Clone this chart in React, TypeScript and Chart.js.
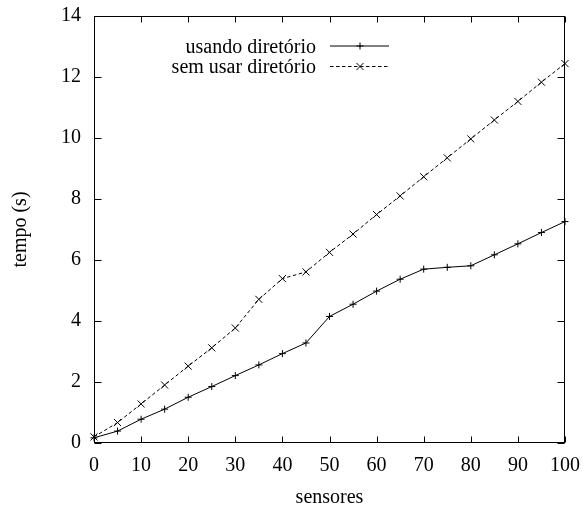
import React, { useEffect, useRef } from "react";
import { Chart, registerables } from "chart.js";

Chart.register(...registerables);

const sensors = [0, 5, 10, 15, 20, 25, 30, 35, 40, 45, 50, 55, 60, 65, 70, 75, 80, 85, 90, 95, 100];
const usandoDiretorio = [0.17, 0.39, 0.78, 1.11, 1.5, 1.85, 2.21, 2.56, 2.93, 3.28, 4.15, 4.55, 4.98, 5.37, 5.7, 5.76, 5.81, 6.17, 6.53, 6.9, 7.26];
const semUsarDiretorio = [0.2, 0.67, 1.28, 1.9, 2.52, 3.12, 3.77, 4.71, 5.39, 5.61, 6.25, 6.85, 7.49, 8.1, 8.73, 9.35, 9.97, 10.59, 11.2, 11.83, 12.44];
const seriesLabels = ["usando diretório", "sem usar diretório"];
const xTitle = "sensores";
const yTitle = "tempo (s)";

const FONT = "'Liberation Serif', 'Times New Roman', serif";
const DASH = [3.5, 2.5];

const framePlugin = {
  id: "frame",
  beforeDatasetsDraw(chart: any) {
    const { ctx, chartArea } = chart;
    const { left, right, top, bottom } = chartArea;
    const xs = chart.scales.x;
    const ys = chart.scales.y;
    ctx.save();
    ctx.strokeStyle = "#000";
    ctx.lineWidth = 1;
    ctx.setLineDash([]);
    const L = Math.round(left) + 0.5;
    const R = Math.round(right) - 0.5;
    const T = Math.round(top) + 0.5;
    const B = Math.round(bottom) - 0.5;
    ctx.strokeRect(L, T, R - L, B - T);
    ctx.beginPath();
    xs.ticks.forEach((t: any) => {
      const px = Math.round(xs.getPixelForValue(t.value)) + 0.5;
      ctx.moveTo(px, B);
      ctx.lineTo(px, B - 6);
      ctx.moveTo(px, T);
      ctx.lineTo(px, T + 6);
    });
    ys.ticks.forEach((t: any) => {
      const py = Math.round(ys.getPixelForValue(t.value)) + 0.5;
      ctx.moveTo(L, py);
      ctx.lineTo(L + 7, py);
      ctx.moveTo(R, py);
      ctx.lineTo(R - 7, py);
    });
    ctx.stroke();
    ctx.restore();
  },
};

const legendPlugin = {
  id: "customLegend",
  afterDatasetsDraw(chart: any) {
    const { ctx } = chart;
    const rows = [
      { y: 46, dash: [] as number[], marker: "plus" },
      { y: 66.5, dash: DASH, marker: "x" },
    ];
    ctx.save();
    ctx.font = `20px ${FONT}`;
    ctx.fillStyle = "#000";
    ctx.strokeStyle = "#000";
    ctx.lineWidth = 1;
    ctx.textAlign = "right";
    ctx.textBaseline = "middle";
    rows.forEach((r, i) => {
      const label = chart.data.datasets[i].label;
      ctx.fillText(label, 316, r.y + 1.5);
      ctx.setLineDash(r.dash);
      ctx.beginPath();
      ctx.moveTo(330, r.y);
      ctx.lineTo(389, r.y);
      ctx.stroke();
      ctx.setLineDash([]);
      ctx.beginPath();
      const cx = 360;
      if (r.marker === "plus") {
        ctx.moveTo(cx - 3.5, r.y);
        ctx.lineTo(cx + 3.5, r.y);
        ctx.moveTo(cx, r.y - 3.5);
        ctx.lineTo(cx, r.y + 3.5);
      } else {
        ctx.moveTo(cx - 3.5, r.y - 3.5);
        ctx.lineTo(cx + 3.5, r.y + 3.5);
        ctx.moveTo(cx - 3.5, r.y + 3.5);
        ctx.lineTo(cx + 3.5, r.y - 3.5);
      }
      ctx.stroke();
    });
    ctx.restore();
  },
};

function zeroPadding(scale: any) {
  scale.paddingTop = 0;
  scale.paddingBottom = 0;
  scale.paddingLeft = 0;
  scale.paddingRight = 0;
}

export default function App() {
  const ref = useRef<HTMLCanvasElement | null>(null);
  useEffect(() => {
    if (!ref.current) return;
    const chart = new Chart(ref.current, {
      type: "line",
      data: {
        datasets: [
          {
            label: seriesLabels[0],
            data: sensors.map((s, i) => ({ x: s, y: usandoDiretorio[i] })),
            borderColor: "#000",
            backgroundColor: "#000",
            borderWidth: 1,
            pointStyle: "cross",
            pointRadius: 3.5,
            pointBorderWidth: 1,
            pointBorderColor: "#000",
            tension: 0,
            clip: false as any,
          },
          {
            label: seriesLabels[1],
            data: sensors.map((s, i) => ({ x: s, y: semUsarDiretorio[i] })),
            borderColor: "#000",
            backgroundColor: "#000",
            borderWidth: 1,
            borderDash: DASH,
            pointStyle: "crossRot",
            pointRadius: 5,
            pointBorderWidth: 1,
            pointBorderColor: "#000",
            tension: 0,
            clip: false as any,
          },
        ],
      },
      options: {
        responsive: false,
        animation: false,
        layout: { padding: { top: 16, right: 20, left: 0, bottom: 0 } },
        plugins: {
          legend: { display: false },
          tooltip: { enabled: false },
        },
        scales: {
          x: {
            type: "linear",
            min: 0,
            max: 100,
            grid: { display: false, drawTicks: false },
            border: { display: false },
            ticks: {
              stepSize: 10,
              padding: 11,
              color: "#000",
              font: { family: FONT, size: 20 },
              maxRotation: 0,
            },
            title: {
              display: true,
              text: xTitle,
              color: "#000",
              font: { family: FONT, size: 20 },
              padding: { top: 0, bottom: 0 },
            },
            afterFit(scale: any) {
              scale.height = 67;
              zeroPadding(scale);
            },
          },
          y: {
            type: "linear",
            min: 0,
            max: 14,
            grid: { display: false, drawTicks: false },
            border: { display: false },
            ticks: {
              stepSize: 2,
              padding: 13,
              color: "#000",
              font: { family: FONT, size: 20 },
            },
            title: {
              display: true,
              text: yTitle,
              color: "#000",
              font: { family: FONT, size: 20 },
              padding: { top: 9, bottom: 0 },
            },
            afterFit(scale: any) {
              scale.width = 94;
              zeroPadding(scale);
            },
          },
        },
      },
      plugins: [framePlugin, legendPlugin],
    });
    return () => chart.destroy();
  }, []);
  return (
    <div style={{ position: "absolute", left: 0, top: 0, width: 585, height: 510, background: "#fff" }}>
      <canvas ref={ref} width={585} height={510} style={{ display: "block", width: 585, height: 510 }} />
    </div>
  );
}
